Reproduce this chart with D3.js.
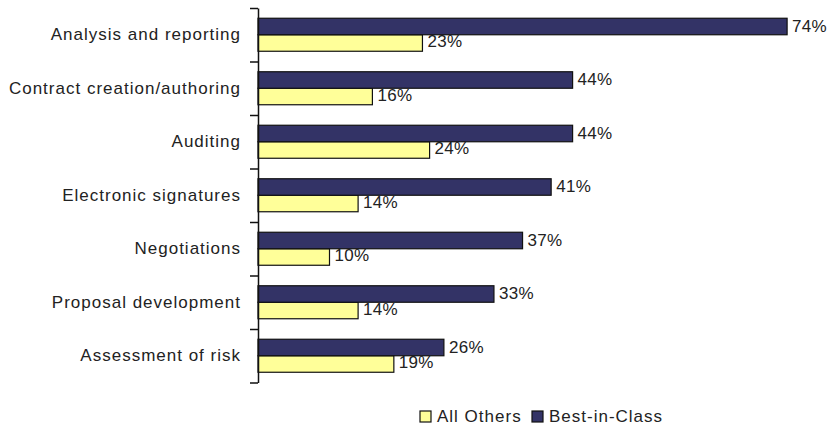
<!DOCTYPE html>
<html>
<head>
<meta charset="utf-8">
<script src="https://cdn.jsdelivr.net/npm/d3@7"></script>
<style>
  body { margin: 0; background: #fff; }
  svg text { font-family: "Liberation Sans", Arial, sans-serif; font-size: 17px; letter-spacing: 1px; fill: #222; }
  svg text.value { letter-spacing: 0.3px; }
</style>
</head>
<body>
<div id="chart"></div>
<script>
const categories = [
    'Analysis and reporting',
    'Contract creation/authoring',
    'Auditing',
    'Electronic signatures',
    'Negotiations',
    'Proposal development',
    'Assessment of risk'
];
const bestInClass = [74, 44, 44, 41, 37, 33, 26];
const allOthers = [23, 16, 24, 14, 10, 14, 19];
const seriesNames = ['Best-in-Class', 'All Others'];
const seriesColors = { 'Best-in-Class': '#333366', 'All Others': '#ffff99' };

const width = 828, height = 427;
const axisX = 258, plotTop = 8, plotBottom = 382.5;

const svg = d3.select('#chart')
    .append('svg')
    .attr('width', width)
    .attr('height', height);

const x = d3.scaleLinear()
    .domain([0, 100])
    .range([axisX, axisX + 715]);

const y = d3.scaleBand()
    .domain(categories)
    .range([plotTop, plotBottom])
    .paddingInner(0.383)
    .paddingOuter(0.1915);

const ySub = d3.scaleBand()
    .domain(seriesNames)
    .range([0, y.bandwidth()]);

const rows = categories.map((c, i) => ({
    cat: c,
    'Best-in-Class': bestInClass[i],
    'All Others': allOthers[i]
}));

// draw yellow first so its labels sit under the dark bars
const drawSeries = (name, dy) => {
    const g = svg.append('g');
    g.selectAll('rect')
        .data(rows)
        .join('rect')
        .attr('x', x(0))
        .attr('y', d => y(d.cat) + ySub(name))
        .attr('width', d => x(d[name]) - x(0))
        .attr('height', ySub.bandwidth())
        .attr('fill', seriesColors[name])
        .attr('stroke', '#111')
        .attr('stroke-width', 1.2);
    g.selectAll('text')
        .data(rows)
        .join('text')
        .attr('class', 'value')
        .attr('x', d => x(d[name]) + 5)
        .attr('y', d => y(d.cat) + ySub(name) + ySub.bandwidth() / 2 + dy)
        .attr('dominant-baseline', 'central')
        .text(d => d[name] + '%');
};
drawSeries('All Others', -1.5);
drawSeries('Best-in-Class', 0);

// category axis: boundaries between groups
const yEdge = d3.scaleLinear()
    .domain([0, categories.length])
    .range([plotTop, plotBottom]);

svg.append('g')
    .attr('transform', `translate(${axisX},0)`)
    .call(d3.axisLeft(yEdge)
        .tickValues(d3.range(categories.length + 1))
        .tickSize(8)
        .tickSizeOuter(0)
        .tickFormat(''))
    .call(g => g.selectAll('path, line').attr('stroke', '#111').attr('stroke-width', 1.5));

svg.append('g')
    .selectAll('text')
    .data(categories)
    .join('text')
    .attr('x', axisX - 17)
    .attr('y', d => y(d) + y.bandwidth() / 2)
    .attr('dominant-baseline', 'central')
    .attr('text-anchor', 'end')
    .text(d => d);

// legend
const legendItems = [
    { name: 'All Others', x: 420 },
    { name: 'Best-in-Class', x: 532 }
];
const legend = svg.append('g');
legend.selectAll('rect')
    .data(legendItems)
    .join('rect')
    .attr('x', d => d.x)
    .attr('y', 411)
    .attr('width', 11)
    .attr('height', 11)
    .attr('fill', d => seriesColors[d.name])
    .attr('stroke', '#111')
    .attr('stroke-width', 1.2);
legend.selectAll('text')
    .data(legendItems)
    .join('text')
    .attr('x', d => d.x + 17)
    .attr('y', 422)
    .text(d => d.name);
</script>
</body>
</html>
